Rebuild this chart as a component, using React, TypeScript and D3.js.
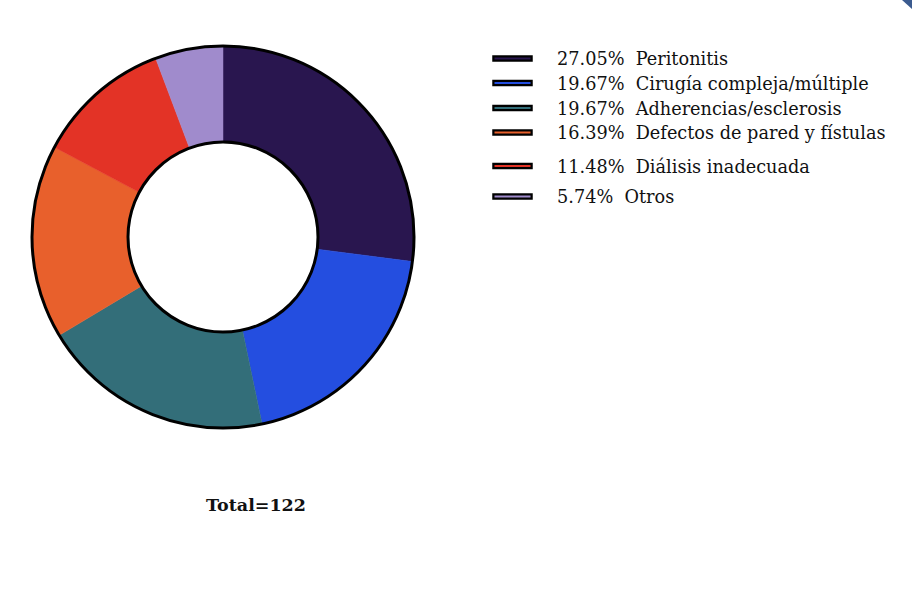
import React from "react";
import * as d3 from "d3";

const categories = [
  "Peritonitis",
  "Cirugía compleja/múltiple",
  "Adherencias/esclerosis",
  "Defectos de pared y fístulas",
  "Diálisis inadecuada",
  "Otros",
];
const counts = [33, 24, 24, 20, 14, 7];
const colors = ["#29164f", "#244ee0", "#336e79", "#e8602c", "#e33326", "#a08bcc"];
const totalLabel = "Total=122";

const W = 912;
const H = 598;
const cx = 223;
const cy = 237;
const rOuter = 191;
const rInner = 95;
const legendRowY = [58.5, 83, 108, 132.5, 166, 196.5];
const legendX0 = 495.5;
const legendX1 = 529.5;
const legendTextX = 557;

export default function App() {
  const total = d3.sum(counts);
  const pie = d3
    .pie<number>()
    .sort(null)
    .startAngle(0)
    .endAngle(2 * Math.PI)
    .value((d) => d);
  const arcs = pie(counts);
  const arc = d3.arc<d3.PieArcDatum<number>>().innerRadius(rInner).outerRadius(rOuter);
  const font = "'DejaVu Serif', serif";

  return (
    <svg
      width={W}
      height={H}
      style={{ position: "absolute", left: 0, top: 0, background: "#fff" }}
    >
      <rect x={0} y={0} width={W} height={H} fill="#fff" />
      <polygon points={`${W - 10},0 ${W},0 ${W},9`} fill="#3b5b8f" />
      <g transform={`translate(${cx},${cy})`}>
        {arcs.map((a, i) => (
          <path key={i} d={arc(a) || ""} fill={colors[i]} stroke={colors[i]} strokeWidth={0.5} />
        ))}
        <circle r={rOuter} fill="none" stroke="#000" strokeWidth={3} />
        <circle r={rInner} fill="none" stroke="#000" strokeWidth={3} />
      </g>
      {categories.map((c, i) => {
        const y = legendRowY[i];
        const pct = ((counts[i] / total) * 100).toFixed(2) + "%";
        return (
          <g key={c}>
            <line x1={legendX0} x2={legendX1} y1={y} y2={y} stroke="#000" strokeWidth={6.5} strokeLinecap="square" />
            <line x1={legendX0 - 1} x2={legendX1 + 1} y1={y} y2={y} stroke={colors[i]} strokeWidth={2} />
            <text
              x={legendTextX}
              y={y + 6.5}
              fontFamily={font}
              fontSize={17.7}
              fill="#111"
              style={{ whiteSpace: "pre" }}
            >
              {`${pct}  ${c}`}
            </text>
          </g>
        );
      })}
      <text
        x={256}
        y={511}
        textAnchor="middle"
        fontFamily={font}
        fontWeight="bold"
        fontSize={17.5}
        fill="#111"
      >
        {totalLabel}
      </text>
    </svg>
  );
}
